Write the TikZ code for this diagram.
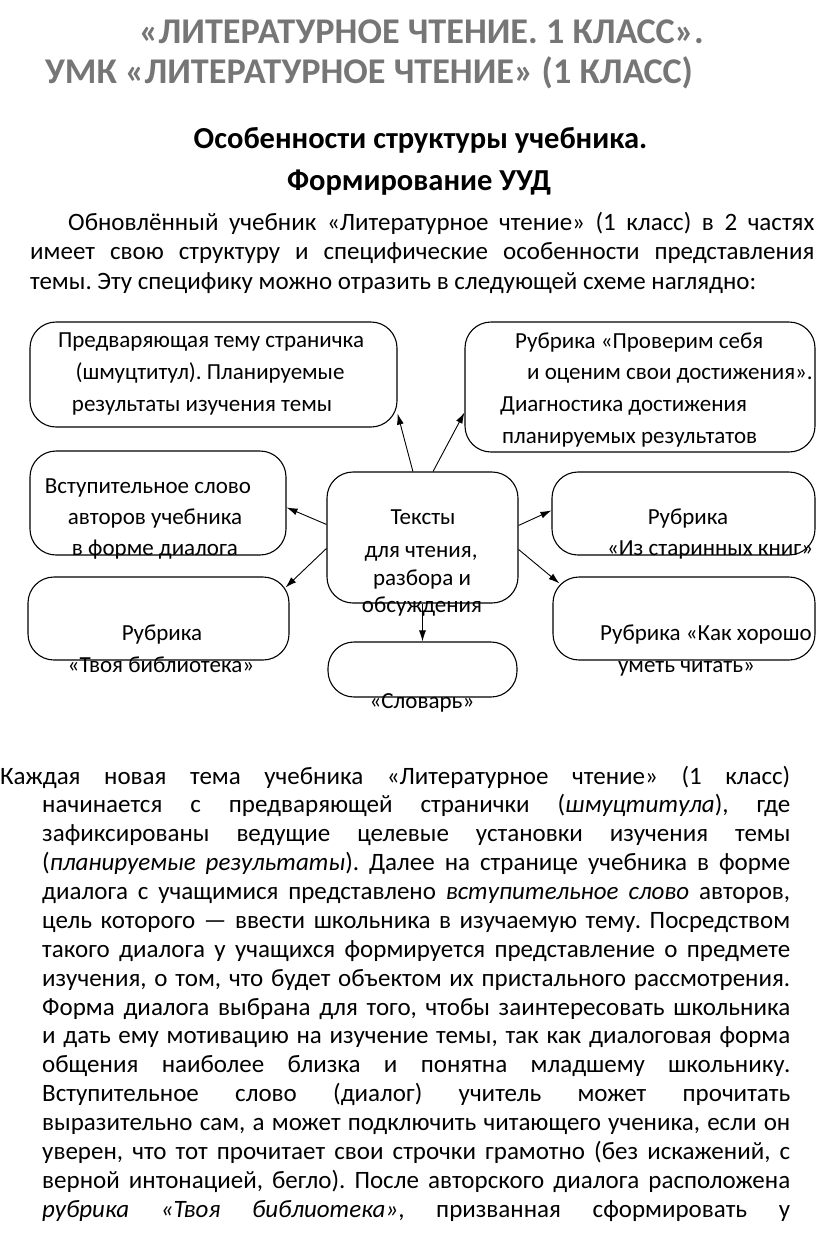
\documentclass[tikz,border=0pt]{standalone}
\usepackage{fontspec}
\setmainfont{Carlito}
\usetikzlibrary{arrows.meta,calc}
\definecolor{titlegray}{RGB}{118,118,118}
\frenchspacing
\tikzset{
  box/.style={draw, line width=1.1pt, rounded corners=26pt, inner sep=0pt},
  conn/.style={draw, line width=0.9pt, -{Latex[length=11pt,width=7pt]}},
  btxt/.style={inner sep=0pt, anchor=base, font=\fontsize{23}{28}\selectfont},
  btxtw/.style={inner sep=0pt, anchor=base west, font=\fontsize{23}{28}\selectfont},
  bodyln/.style={inner sep=0pt, anchor=base west, font=\frenchspacing\fontsize{25}{29}\selectfont},
  ttl/.style={inner sep=0pt, anchor=base, text=titlegray},
  hd/.style={inner sep=0pt, anchor=base, font=\bfseries\fontsize{30.5}{34}\selectfont},
}
\begin{document}
\begin{tikzpicture}[x=1pt,y=-1pt]
\useasboundingbox (0,0) rectangle (816,1234);
% titles
\node[ttl, font=\bfseries\fontsize{36.2}{40}\selectfont] (ti1) at (421.5,43) {«ЛИТЕРАТУРНОЕ ЧТЕНИЕ. 1 КЛАСС».};
\node[ttl, font=\bfseries\fontsize{36.2}{42}\selectfont] (ti2) at (369,83) {УМК «ЛИТЕРАТУРНОЕ ЧТЕНИЕ» (1 КЛАСС)};
\node[hd] (h1) at (420.5,148) {Особенности структуры учебника.};
\node[hd] (h2) at (419,190) {Формирование УУД};
% intro
\node[bodyln] (i1) at (68,230) {\makebox[746pt][s]{Обновлённый учебник «Литературное чтение» (1 класс) в 2 частях}};
\node[bodyln] (i2) at (30,259) {\makebox[784pt][s]{имеет свою структуру и специфические особенности представления}};
\node[bodyln] (i3) at (30,289) {темы. Эту специфику можно отразить в следующей схеме наглядно:};
% boxes
\node[box, minimum width=367pt, minimum height=105pt] (tl) at (213.5,374.5) {};
\node[box, minimum width=350pt, minimum height=130pt] (tr) at (640,387) {};
\node[box, minimum width=256pt, minimum height=104pt] (ml) at (158,503) {};
\node[box, minimum width=261pt, minimum height=83pt] (bl) at (158.5,618.5) {};
\node[box, minimum width=191pt, minimum height=131pt] (c) at (422.5,537.5) {};
\node[box, minimum width=189pt, minimum height=55pt] (sl) at (422.5,669.5) {};
\node[box, minimum width=263pt, minimum height=83pt] (mr) at (683.5,513.5) {};
\node[box, minimum width=262pt, minimum height=83pt] (br) at (684,618.5) {};
% box texts
\node[btxt] (tla) at (211,347) {Предваряющая тему страничка};
\node[btxt] (tlb) at (210,379) {(шмуцтитул). Планируемые};
\node[btxt] (tlc) at (202,411) {результаты изучения темы};
\node[btxtw] (tra) at (515,348) {Рубрика «Проверим себя};
\node[btxtw] (trb) at (527,379) {и оценим свои достижения».};
\node[btxtw] (trc) at (500,411) {Диагностика достижения};
\node[btxtw] (trd) at (502,443) {планируемых результатов};
\node[btxt] (mla) at (148,493) {Вступительное слово};
\node[btxt] (mlb) at (155,524) {авторов учебника};
\node[btxt] (mlc) at (155,555) {в форме диалога};
\node[btxt] (bla) at (162,640) {Рубрика};
\node[btxt] (blb) at (161,672) {«Твоя библиотека»};
\node[btxt] (ca) at (423,524) {Тексты};
\node[btxt] (cb) at (421,557) {для чтения,};
\node[btxt] (cc) at (422,585) {разбора и};
\node[btxt] (cd) at (422,612) {обсуждения};
\node[btxt] (sla) at (422,708) {«Словарь»};
\node[btxt] (mra) at (688,524) {Рубрика};
\node[btxtw] (mrb) at (607,555) {«Из старинных книг»};
\node[btxtw] (bra) at (600,640) {Рубрика «Как хорошо};
\node[btxtw] (brb) at (618,672) {уметь читать»};
% connectors
\draw[conn] ($(c.north west)!0.45!(c.north east)$) -- ($(tl.south east)+(0,-14)$);
\draw[conn] ($(c.north west)!0.555!(c.north east)$) -- ($(tr.north west)+(0,91)$);
\draw[conn] ($(c.north west)+(0,53)$) -- ($(ml.north east)+(0,57)$);
\draw[conn] ($(c.north west)+(0,77)$) -- ($(bl.north east)+(-4,11)$);
\draw[conn] ($(c.north east)+(0,54)$) -- ($(mr.north west)+(0,39)$);
\draw[conn] ($(c.north east)+(0,78)$) -- ($(br.north west)+(7,7)$);
\draw[conn] (c.south) -- (sl.north);
% body
\node[bodyln] (b1) at (0,784) {\makebox[790pt][s]{Каждая новая тема учебника «Литературное чтение» (1 класс)}};
\node[bodyln] (b2) at (42,812.9) {\makebox[748pt][s]{начинается с предваряющей странички (\textit{шмуцтитула}), где}};
\node[bodyln] (b3) at (42,841.7) {\makebox[748pt][s]{зафиксированы ведущие целевые установки изучения темы}};
\node[bodyln] (b4) at (42,870.6) {\makebox[748pt][s]{(\textit{планируемые результаты}). Далее на странице учебника в форме}};
\node[bodyln] (b5) at (42,899.5) {\makebox[748pt][s]{диалога с учащимися представлено \textit{вступительное слово} авторов,}};
\node[bodyln] (b6) at (42,928.4) {\makebox[748pt][s]{цель которого — ввести школьника в изучаемую тему. Посредством}};
\node[bodyln] (b7) at (42,957.2) {\makebox[748pt][s]{такого диалога у учащихся формируется представление о предмете}};
\node[bodyln] (b8) at (42,986.1) {\makebox[748pt][s]{изучения, о том, что будет объектом их пристального рассмотрения.}};
\node[bodyln] (b9) at (42,1015) {\makebox[748pt][s]{Форма диалога выбрана для того, чтобы заинтересовать школьника}};
\node[bodyln] (b10) at (42,1043.8) {\makebox[748pt][s]{и дать ему мотивацию на изучение темы, так как диалоговая форма}};
\node[bodyln] (b11) at (42,1072.7) {\makebox[748pt][s]{общения наиболее близка и понятна младшему школьнику.}};
\node[bodyln] (b12) at (42,1101.6) {\makebox[748pt][s]{Вступительное слово (диалог) учитель может прочитать}};
\node[bodyln] (b13) at (42,1130.4) {\makebox[748pt][s]{выразительно сам, а может подключить читающего ученика, если он}};
\node[bodyln] (b14) at (42,1159.3) {\makebox[748pt][s]{уверен, что тот прочитает свои строчки грамотно (без искажений, с}};
\node[bodyln] (b15) at (42,1188.2) {\makebox[748pt][s]{верной интонацией, бегло). После авторского диалога расположена}};
\node[bodyln] (b16) at (42,1217) {\makebox[748pt][s]{\textit{рубрика «Твоя библиотека»}, призванная сформировать у}};
\end{tikzpicture}
\end{document}
